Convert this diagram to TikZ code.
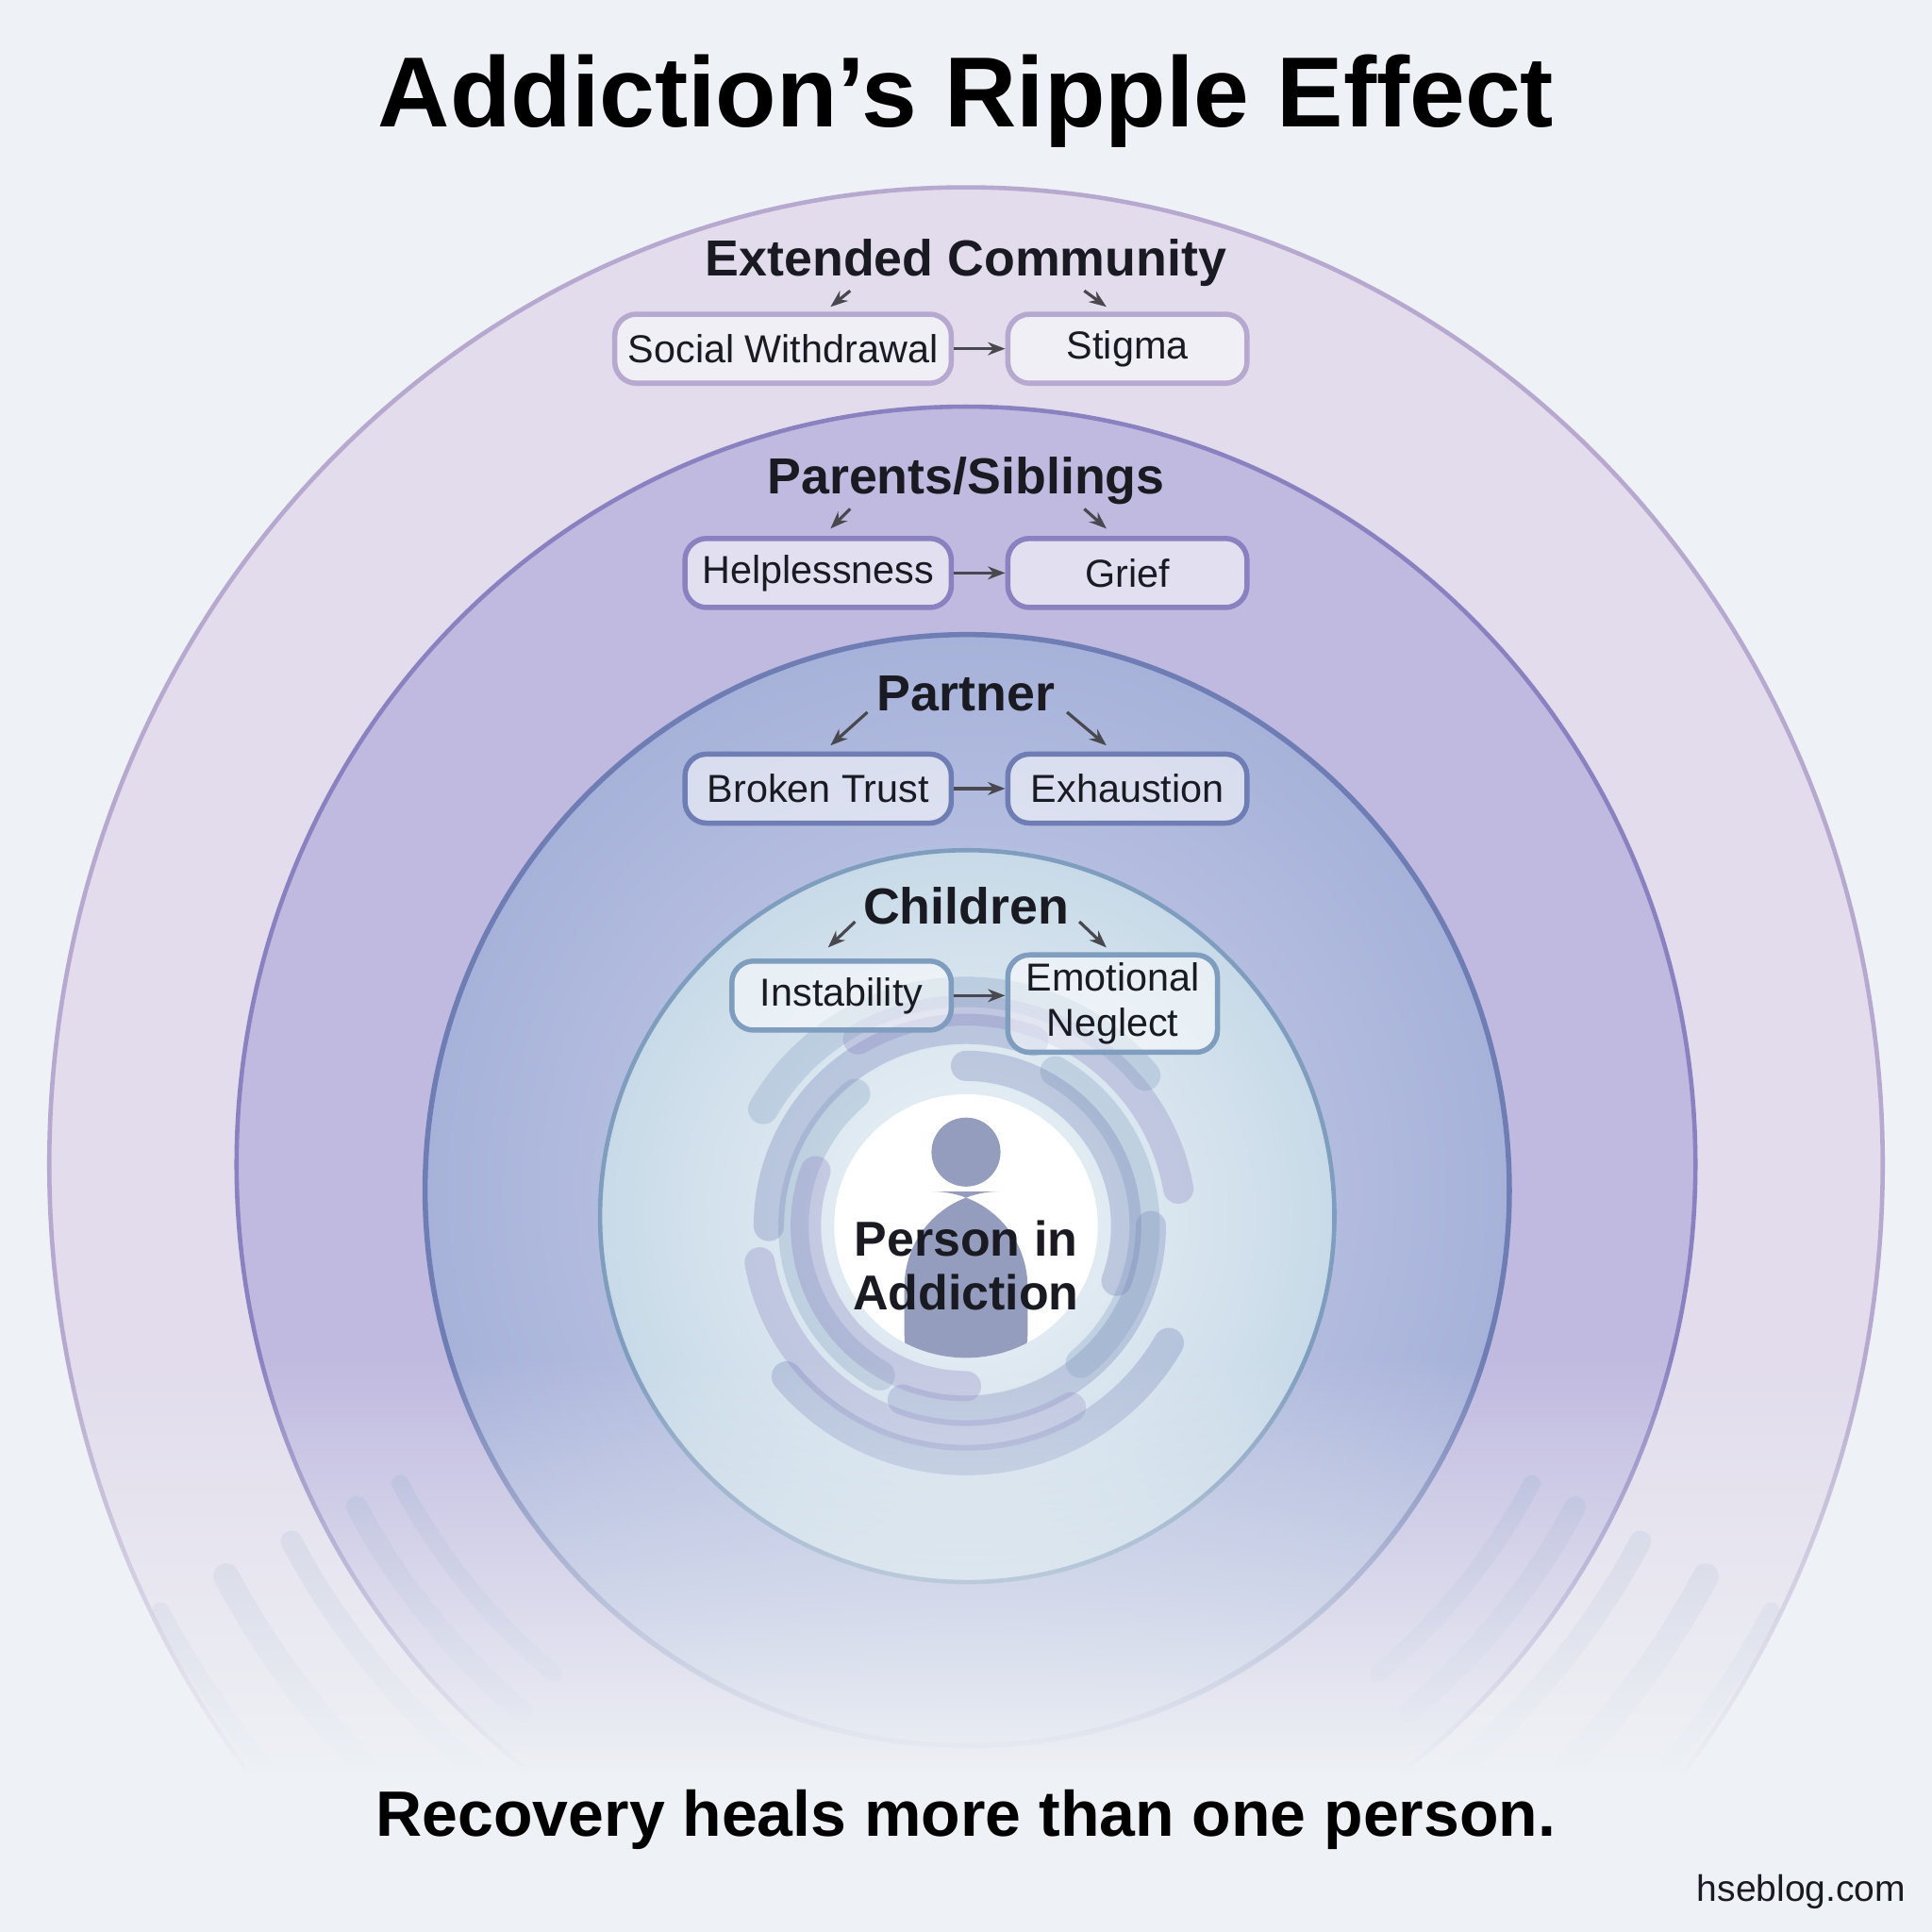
\documentclass[tikz,border=0pt]{standalone}
\usepackage{fontspec}
\setmainfont{Liberation Sans}
\usetikzlibrary{fadings,arrows.meta}
\definecolor{bgc}{HTML}{EEF1F5}
\definecolor{c1}{HTML}{E2DCEC}
\definecolor{c1e}{HTML}{B6A8CF}
\definecolor{c2}{HTML}{C0BAE0}
\definecolor{c2e}{HTML}{8A82C0}
\definecolor{c3}{HTML}{A7B2DA}
\definecolor{c3e}{HTML}{6F7DB5}
\definecolor{c4}{HTML}{C8DAE8}
\definecolor{c4e}{HTML}{7F9DBE}
\definecolor{txt}{HTML}{1A1A22}
\tikzset{
 bx/.style={draw=#1, line width=1.2pt, rounded corners=5pt, fill=white, fill opacity=0.55, text opacity=1, text=txt, minimum height=0.56cm, inner sep=1pt, font=\fontsize{9}{10.5}\selectfont},
 hd/.style={text=txt, font=\bfseries\fontsize{11.7}{13}\selectfont},
 ar/.style={-{Stealth[length=4pt]}, line width=0.7pt, draw=txt!80},
}
\begin{document}
\begin{tikzpicture}[x=0.01cm,y=-0.01cm]
\useasboundingbox (0,0) rectangle (1568,1568);
\clip (0,0) rectangle (1568,1568);
\fill[bgc] (0,0) rectangle (1568,1568);
% rings
\fill[c1, draw=c1e, line width=1pt] (784,945) ellipse [x radius=744, y radius=793];
\fill[c2, draw=c2e, line width=1pt] (784,945) ellipse [x radius=592, y radius=615];
\shade[inner color=c3!60, outer color=c3] (785,966) ellipse [x radius=440, y radius=451];
\draw[c3e, line width=1.2pt] (785,966) ellipse [x radius=440, y radius=451];
\shade[inner color=white!70!c4, outer color=c4] (785,987) ellipse [x radius=298, y radius=297];
\draw[c4e, line width=1pt] (785,987) ellipse [x radius=298, y radius=297];
% swirl
\foreach \a/\r/\c in {0/150/c3e,60/170/c2e,120/140/c4e,180/160/c3e,240/175/c2e,300/145/c4e,30/190/c3e,210/190/c4e,90/130/c2e,270/130/c3e}{
 \draw[\c, opacity=0.3, line width=7pt, line cap=round] (784,995) ++(\a:\r) arc[start angle=\a, end angle=\a+110, radius=\r];
}
% ripple strokes
\foreach \s in {-1,1}{
 \foreach \r/\w in {520/4,560/5,620/5,680/6,740/4}{
  \draw[c4e, opacity=0.25, line width=\w pt, line cap=round] (784,960) ++({90+\s*40}:\r) arc[start angle={90+\s*40}, end angle={90+\s*62}, radius=\r];
 }
}
% bottom fade
\fill[bgc, path fading=north] (0,1100) rectangle (1568,1440);
\fill[bgc] (0,1439) rectangle (1568,1568);
% center
\fill[white] (784,995) circle[radius=107];
\begin{scope}
\clip (784,995) circle[radius=107];
\fill[c3e!80!gray, opacity=0.75] (784,935) circle[radius=28];
\fill[c3e!80!gray, opacity=0.75, rounded corners=22pt] (734,967) rectangle (834,1160);
\end{scope}
\node[align=center, text=txt, font=\bfseries\fontsize{11.3}{12.5}\selectfont] (pa) at (784,1027) {Person in\\Addiction};
% title
\node[text=black, font=\bfseries\fontsize{23}{25}\selectfont] (t) at (784,82) {Addiction’s Ripple Effect};
\node[text=black, font=\fontsize{14.8}{16}\selectfont\bfseries] (b) at (784,1477) {Recovery heals more than one person.};
\node[text=txt, font=\fontsize{8.5}{10}\selectfont] (w) at (1462,1535) {hseblog.com};
% Extended community
\node[hd] (h1) at (784,213) {Extended Community};
\node[bx=c1e, minimum width=2.73cm] (a1) at (635.5,283) {Social Withdrawal};
\node[bx=c1e, minimum width=1.94cm] (b1) at (915,283) {Stigma};
\draw[ar] (a1) -- (b1);
\draw[ar] (690,236) -- (674,249);
\draw[ar] (880,236) -- (898,249);
% Parents
\node[hd] (h2) at (784,390) {Parents/Siblings};
\node[bx=c2e, minimum width=2.16cm] (a2) at (664,465) {Helplessness};
\node[bx=c2e, minimum width=1.94cm] (b2) at (915,465) {Grief};
\draw[ar] (a2) -- (b2);
\draw[ar] (690,413) -- (674,429);
\draw[ar] (880,413) -- (898,429);
% Partner
\node[hd] (h3) at (784,563) {Partner};
\node[bx=c3e, minimum width=2.16cm] (a3) at (664,640) {Broken Trust};
\node[bx=c3e, minimum width=1.94cm] (b3) at (915,640) {Exhaustion};
\draw[ar] (a3) -- (b3);
\draw[ar] (704,578) -- (674,605);
\draw[ar] (866,578) -- (898,605);
% Children
\node[hd] (h4) at (784,735) {Children};
\node[bx=c4e, minimum width=1.78cm] (a4) at (683,808) {Instability};
\node[bx=c4e, minimum width=1.70cm, minimum height=0.79cm, align=center] (b4) at (903,814.5) {Emotional\\Neglect};
\draw[ar] (a4) -- (a4 -| b4.west);
\draw[ar] (694,748) -- (672,769);
\draw[ar] (876,748) -- (898,769);
\end{tikzpicture}
\end{document}
